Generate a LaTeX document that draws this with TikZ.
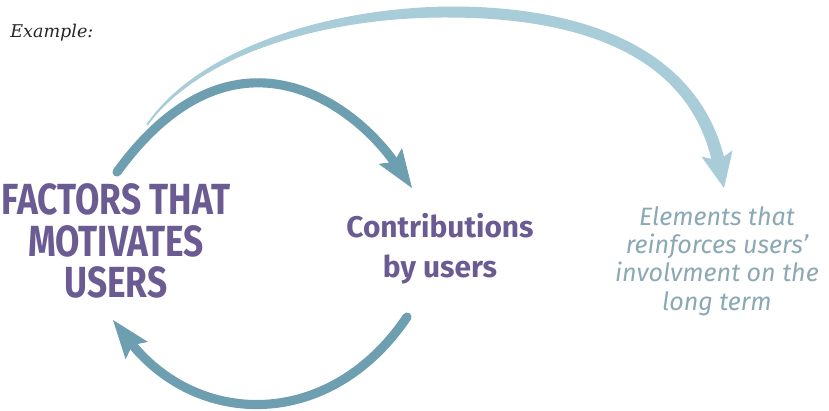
\documentclass[tikz,border=0pt]{standalone}
\usepackage{fontspec}
\usepackage{tikz}
\usetikzlibrary{arrows.meta,calc}
\newfontfamily\firacond[FakeStretch=0.81]{Fira Sans}
\newfontfamily\fira{Fira Sans}
\newfontfamily\dejaserif{DejaVu Serif}
\definecolor{factpurple}{HTML}{6B5B93}
\definecolor{loopblue}{HTML}{6E9FB1}
\definecolor{longblue}{HTML}{A9CDD8}
\definecolor{longtext}{HTML}{8BA8B5}

\tikzset{
    shaft/.style={loopblue, line width=5.2pt, line cap=round, shorten >=15pt},
    head/.style={-{Stealth[length=22pt, width=16pt, inset=4pt]}, line width=0.4pt},
    longhead/.style={-{Stealth[length=20pt, width=18pt, inset=4pt]}, line width=0.4pt},
    factors/.style={font=\firacond\bfseries\fontsize{24.8pt}{23.6pt}\selectfont, text=factpurple, align=center, inner sep=0pt},
    contrib/.style={font=\fira\bfseries\fontsize{17pt}{22.8pt}\selectfont, text=factpurple, align=center, inner sep=0pt},
    longterm/.style={font=\fira\itshape\fontsize{14.3pt}{16.1pt}\selectfont, text=longtext, align=center, inner sep=0pt}
}

\begin{document}
\begin{tikzpicture}[x=0.02cm, y=-0.02cm]
    \useasboundingbox (0,0) rectangle (829,410);

    \node[anchor=base west, inner sep=0pt, font=\dejaserif\itshape\fontsize{10pt}{12pt}\selectfont, text=black!85] (ex) at (10,37) {Example:};

    \node[factors] (fac) at (116,241) {FACTORS THAT\\MOTIVATES\\USERS};
    \node[contrib] (con) at (440,249) {Contributions\\by users};
    \node[longterm] (lt) at (717,261) {Elements that\\reinforces users’\\involvment on the\\long term};

    % loop between the two
    \coordinate (s1) at (117,172);
    \coordinate (c1) at (232,14);
    \coordinate (d1) at (353,101);
    \coordinate (e1) at (412,188);
    \coordinate (s2) at (407,317);
    \coordinate (c2) at (330,431);
    \coordinate (d2) at (197,428);
    \coordinate (e2) at (113,320);

    % long term arrow
    \coordinate (s3) at (147,125);
    \coordinate (c3) at (200,50);
    \coordinate (d3) at (330,12);
    \coordinate (m3) at (450,12);
    \coordinate (f3) at (570,12);
    \coordinate (g3) at (695,45);
    \coordinate (n3) at (719.6,166.4);
    \coordinate (e3) at (724,188);

    % thin at the start, wide at the head
    \fill[longblue] ($(s3)+(-0.7,-0.5)$) .. controls ($(c3)+(-1.5,-2)$) and ($(d3)+(0,-4.5)$) .. ($(m3)+(0,-5.5)$)
        .. controls ($(f3)+(0,-6)$) and ($(g3)+(4.6,-4.3)$) .. ($(n3)+(6.4,-1.3)$)
        -- ($(n3)+(-6.4,1.3)$) .. controls ($(g3)+(-4.6,4.3)$) and ($(f3)+(0,6)$) .. ($(m3)+(0,5.5)$)
        .. controls ($(d3)+(0,4.5)$) and ($(c3)+(1.5,2)$) .. ($(s3)+(0.7,0.5)$) -- cycle;
    \draw[longhead, longblue] (s3) .. controls (c3) and (d3) .. (m3) .. controls (f3) and (g3) .. (e3);

    \draw[shaft] (s1) .. controls (c1) and (d1) .. (e1);
    \draw[head, loopblue] (s1) .. controls (c1) and (d1) .. (e1);

    \draw[shaft] (s2) .. controls (c2) and (d2) .. (e2);
    \draw[head, loopblue] (s2) .. controls (c2) and (d2) .. (e2);
\end{tikzpicture}
\end{document}
